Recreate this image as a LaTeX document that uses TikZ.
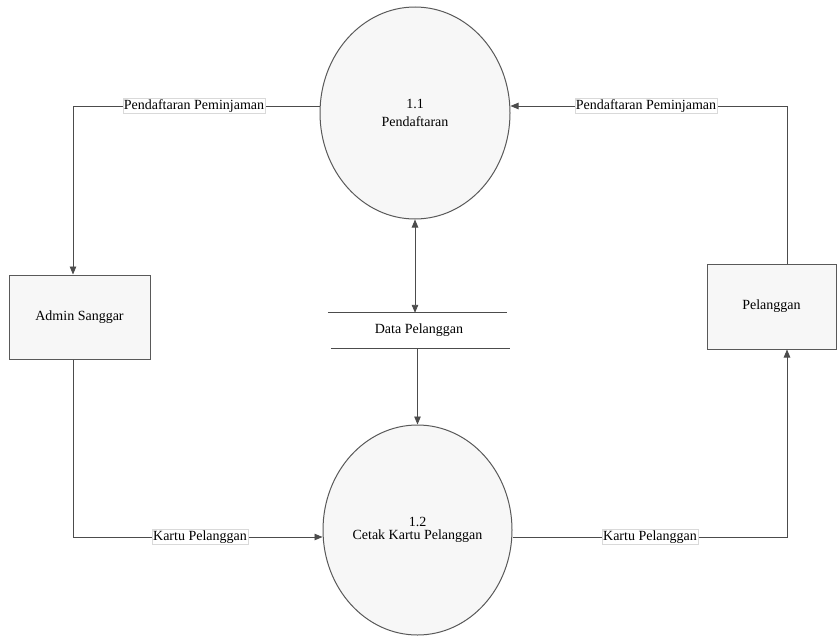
\documentclass[tikz,border=0pt]{standalone}
\usepackage{fontspec}
\setmainfont{Liberation Serif}
\usetikzlibrary{shapes.geometric,arrows.meta}
\begin{document}
\begin{tikzpicture}[x=1pt,y=-1pt,
  lc/.style={draw=black!70, line width=0.9pt},
  tip/.tip={Triangle[length=8pt,width=6.5pt]},
  flow/.style={lc, -tip},
  proc/.style={ellipse, draw=black!65, line width=1pt, fill=black!3, inner sep=0pt, align=center},
  ent/.style={rectangle, draw=black!65, line width=1pt, fill=black!3, inner sep=0pt, font=\rmfamily\fontsize{14}{17}\selectfont},
  lbl/.style={fill=white, draw=black!15, line width=0.4pt, inner sep=1pt, font=\rmfamily\fontsize{14}{16}\selectfont}
]
\useasboundingbox[fill=white] (0,0) rectangle (838,637);

% processes
\node[proc, minimum width=190pt, minimum height=212pt, font=\rmfamily\fontsize{14}{18}\selectfont] (c1) at (415,113) {1.1\\Pendaftaran};
\node[proc, minimum width=189pt, minimum height=210pt, font=\rmfamily\fontsize{14}{12.5}\selectfont] (c2) at (417.5,530) {1.2\\Cetak Kartu Pelanggan};

% entities
\node[ent, minimum width=141pt, minimum height=84pt] (a) at (79.5,317) {Admin Sanggar};
\node[ent, minimum width=129pt, minimum height=85pt] (p) at (771.5,306.5) {Pelanggan};

% data store
\node[minimum width=182pt, minimum height=35pt, inner sep=0pt, font=\rmfamily\fontsize{14}{16}\selectfont] (s) at (419,330.5) {Data Pelanggan};
\draw[lc] (s.north west) -- ([xshift=-3pt]s.north east);
\draw[lc] ([xshift=3pt]s.south west) -- (s.south east);

% bend points
\coordinate (k1) at (73,106);
\coordinate (k2) at (787,106);
\coordinate (k3) at (73,537);
\coordinate (k4) at (787,537);

% flows
\draw[flow] (c1.west |- k1) -- (k1) -- (a.north -| k1);
\draw[flow] (p.north -| k2) -- (k2) -- (c1.east |- k2);
\draw[flow] (a.south -| k3) -- (k3) -- (c2.west |- k3);
\draw[flow] (c2.east |- k4) -- (k4) -- (p.south -| k4);
\draw[lc, tip-tip] (c1.south) -- (c1.south |- s.north);
\draw[flow] (s.south -| c2.north) -- (c2.north);

% labels
\node[lbl] (l1) at (194,106) {Pendaftaran Peminjaman};
\node[lbl] (l2) at (646,106) {Pendaftaran Peminjaman};
\node[lbl] (l3) at (200,537) {Kartu Pelanggan};
\node[lbl] (l4) at (650,537) {Kartu Pelanggan};
\end{tikzpicture}
\end{document}
